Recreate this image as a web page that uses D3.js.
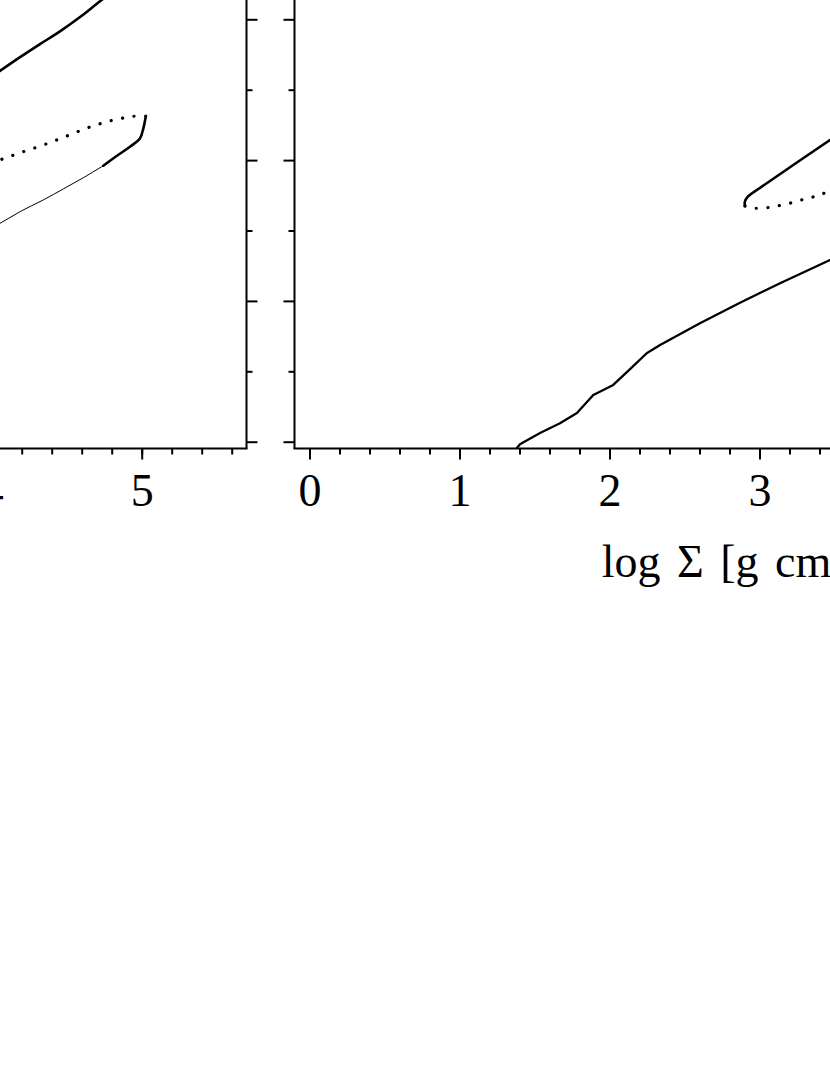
<!DOCTYPE html>
<html>
<head>
<meta charset="utf-8">
<script src="https://cdn.jsdelivr.net/npm/d3@7"></script>
<style>
  body { margin: 0; background: #fff; }
  svg { display: block; }
  .tick text, .label { font-family: "Liberation Serif", "Times New Roman", serif; fill: #000; }
</style>
</head>
<body>
<div class="chart"></div>
<script>
// --- data (log Sigma, log T) ---

// left panel
var leftUpperX = [3.922, 4.055, 4.189, 4.322, 4.455, 4.589, 4.733, 4.889];
var leftUpperY = [5.533, 5.633, 5.731, 5.824, 5.914, 6.016, 6.137, 6.258];

var leftDotX = [3.922, 4.055, 4.193, 4.344, 4.489, 4.637, 4.789, 4.944, 5.027];
var leftDotY = [4.951, 5.001, 5.053, 5.107, 5.166, 5.228, 5.278, 5.311, 5.313];

var leftHookX = [5.027, 5.019, 5.011, 4.989, 4.922, 4.833, 4.744];
var leftHookY = [5.308, 5.264, 5.226, 5.155, 5.095, 5.029, 4.960];

var leftThinX = [4.744, 4.611, 4.477, 4.344, 4.189, 4.055, 3.922];
var leftThinY = [4.960, 4.875, 4.795, 4.717, 4.634, 4.551, 4.482];

// right panel
var rightLowX = [1.380, 1.403, 1.537, 1.670, 1.783, 1.892, 2.025, 2.137, 2.248, 2.337, 2.603, 2.870, 3.137, 3.470, 3.670];
var rightLowY = [2.952, 2.982, 3.062, 3.131, 3.204, 3.332, 3.403, 3.516, 3.628, 3.687, 3.841, 3.987, 4.125, 4.290, 4.390];

var rightUpX = [2.903, 2.902, 2.922, 3.000, 3.225, 3.470, 3.670];
var rightUpY = [4.674, 4.702, 4.740, 4.800, 4.965, 5.143, 5.285];

var rightDotX = [2.903, 2.933, 2.981, 3.070, 3.148, 3.225, 3.303, 3.381, 3.459, 3.670];
var rightDotY = [4.674, 4.663, 4.658, 4.665, 4.681, 4.700, 4.724, 4.745, 4.776, 4.844];

// tick values
var leftMajor = [4, 5];
var rightMajor = [0, 1, 2, 3];
var yMajor = [3, 4, 5, 6];

function zip(xs, ys) {
  return xs.map(function(d, i) { return [d, ys[i]]; });
}

// --- dimensions ---
var W = 830, H = 1075;
var axisY = 448.5;
var leftEdge = 246.5;
var rightEdge = 294.5;

var svg = d3.select(".chart")
  .append("svg")
  .attr("width", W)
  .attr("height", H);

svg.append("rect").attr("width", W).attr("height", H).attr("fill", "#fff");

// scales
var y = d3.scaleLinear().domain([3, 6]).range([441.7, 19.3]);
var xL = d3.scaleLinear().domain([3.9, 5.7]).range([141.7 - 165, 141.7 + 105]);
var xR = d3.scaleLinear().domain([-0.1, 3.7]).range([309.5 - 15, 309.5 + 3.7 * 150]);

var yTop = 6.4, yBot = 2.95;

function minorTicks(lo, hi, step) {
  var out = [];
  for (var v = Math.ceil(lo / step) * step; v <= hi + 1e-9; v += step) out.push(+v.toFixed(3));
  return out;
}

// clip paths
var defs = svg.append("defs");
defs.append("clipPath").attr("id", "clipL")
  .append("rect").attr("x", -50).attr("y", -50).attr("width", leftEdge + 50).attr("height", axisY + 50);
defs.append("clipPath").attr("id", "clipR")
  .append("rect").attr("x", rightEdge).attr("y", -50).attr("width", W - rightEdge + 50).attr("height", axisY + 50);

function drawAxes(g, x, xMajor, yAxisX, side) {
  var dom = x.domain();

  // minor x ticks
  g.append("g")
    .attr("transform", "translate(0," + axisY + ")")
    .call(d3.axisBottom(x).tickValues(minorTicks(dom[0], dom[1], 0.2)).tickSize(6).tickFormat(""))
    .call(function(a) { a.select(".domain").remove(); });

  // major x ticks + labels
  g.append("g")
    .attr("transform", "translate(0," + axisY + ")")
    .call(d3.axisBottom(x).tickValues(xMajor).tickSize(11).tickFormat(d3.format("d")))
    .call(function(a) {
      a.select(".domain").remove();
      a.selectAll("text").attr("y", 57.5).attr("dy", 0).style("font-size", "46px");
    });

  // y ticks (outward)
  var ax = side === "right" ? d3.axisRight : d3.axisLeft;
  g.append("g")
    .attr("transform", "translate(" + yAxisX + ",0)")
    .call(ax(y).tickValues([3.5, 4.5, 5.5]).tickSize(6).tickFormat(""))
    .call(function(a) { a.select(".domain").remove(); });
  g.append("g")
    .attr("transform", "translate(" + yAxisX + ",0)")
    .call(ax(y).tickValues(yMajor).tickSize(11).tickFormat(""))
    .call(function(a) { a.select(".domain").remove(); });

  g.selectAll(".tick line").attr("stroke", "#000").attr("stroke-width", 2);

  // frame lines
  g.append("line")
    .attr("x1", yAxisX).attr("x2", yAxisX)
    .attr("y1", y(yTop)).attr("y2", y(yBot))
    .attr("stroke", "#000").attr("stroke-width", 2);
  var xa = side === "right" ? x.range()[0] : yAxisX;
  var xb = side === "right" ? yAxisX : x.range()[1];
  g.append("line")
    .attr("x1", xa - 1).attr("x2", xb + 1)
    .attr("y1", axisY).attr("y2", axisY)
    .attr("stroke", "#000").attr("stroke-width", 2);
}

var gL = svg.append("g");
var gR = svg.append("g");
drawAxes(gL, xL, leftMajor, leftEdge, "right");
drawAxes(gR, xR, rightMajor, rightEdge, "left");

// curves
function curve(g, x, pts, width, dotted, clip, type) {
  var line = d3.line()
    .x(function(d) { return x(d[0]); })
    .y(function(d) { return y(d[1]); })
    .curve(type || d3.curveCatmullRom);
  var p = g.append("path")
    .datum(pts)
    .attr("clip-path", "url(#" + clip + ")")
    .attr("d", line)
    .attr("fill", "none")
    .attr("stroke", "#000")
    .attr("stroke-width", width)
    .attr("stroke-linejoin", "round")
    .attr("stroke-linecap", "round");
  if (dotted) p.attr("stroke-dasharray", "0.1 11.5").attr("stroke-width", 3.2);
  return p;
}

curve(gL, xL, zip(leftUpperX, leftUpperY), 2.6, false, "clipL");
curve(gL, xL, zip(leftDotX, leftDotY), 3, true, "clipL");
curve(gL, xL, zip(leftHookX, leftHookY), 2.6, false, "clipL");
curve(gL, xL, zip(leftThinX, leftThinY), 1, false, "clipL");

curve(gR, xR, zip(rightLowX, rightLowY), 2.3, false, "clipR", d3.curveLinear);
curve(gR, xR, zip(rightUpX, rightUpY), 2.6, false, "clipR");
curve(gR, xR, zip(rightDotX, rightDotY), 3, true, "clipR");

// x label (runs off the right edge, as in the source)
svg.append("text")
  .attr("class", "label")
  .attr("x", 601.7)
  .attr("y", 576.7)
  .style("font-size", "46px")
  .style("word-spacing", "5px")
  .text("log \u03A3 [g cm\u207B\u00B2]");
</script>
</body>
</html>
